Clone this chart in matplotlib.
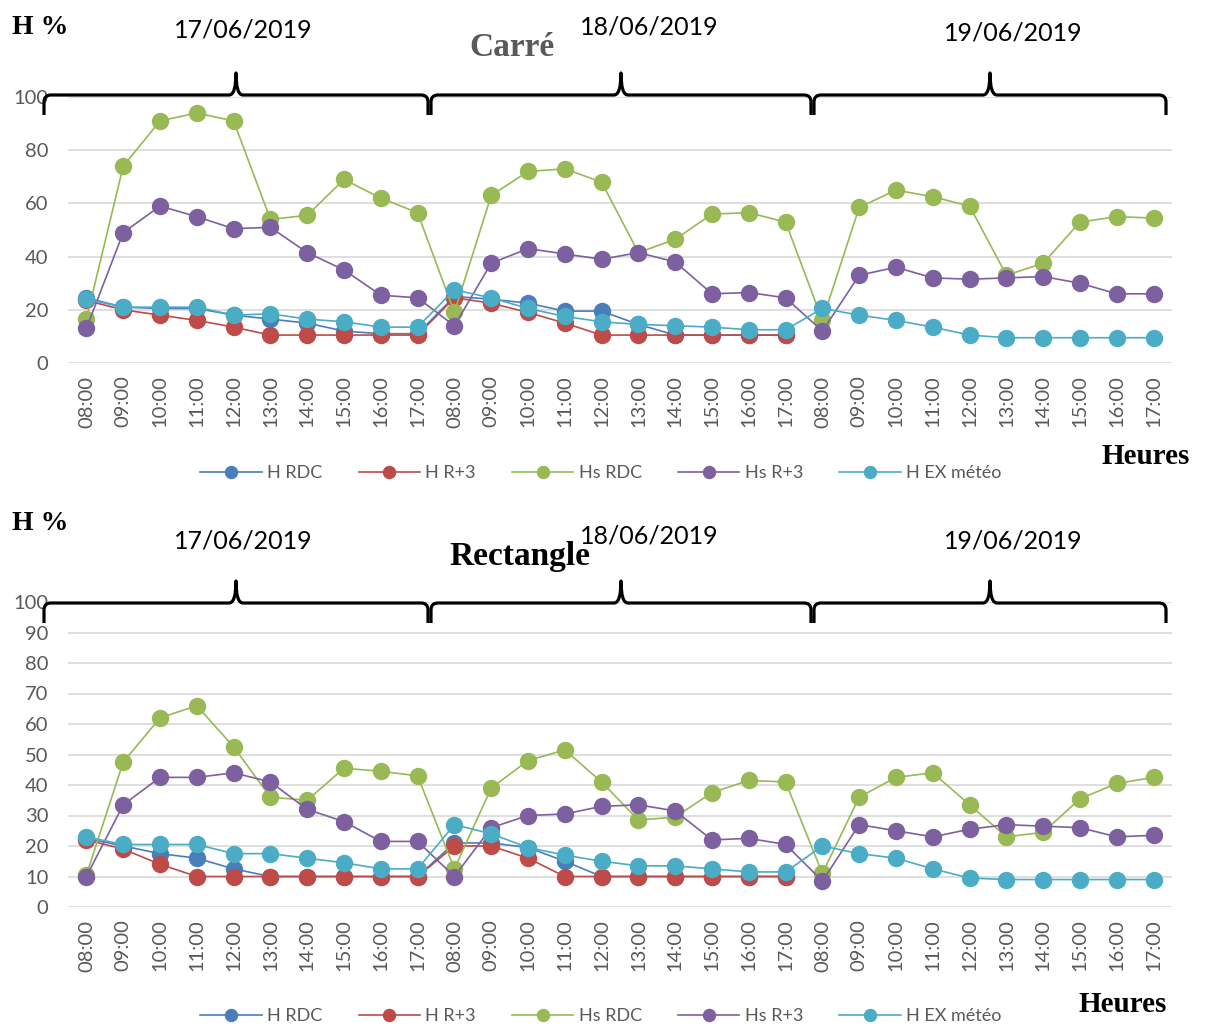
import numpy as np
import matplotlib
matplotlib.use("Agg")
import matplotlib.pyplot as plt
from matplotlib.path import Path
from matplotlib.patches import PathPatch

nan = np.nan

# Hours for the three days (17, 18, 19 June 2019)
hours = ["08:00", "09:00", "10:00", "11:00", "12:00",
         "13:00", "14:00", "15:00", "16:00", "17:00"]
labels = hours * 3
days = ["17/06/2019", "18/06/2019", "19/06/2019"]
series_names = ["H RDC", "H R+3", "Hs RDC", "Hs R+3", "H EX météo"]

# Carré
carre_h_rdc = [24.5, 21, 20.5, 20.5, 18, 16.5, 15, 12, 11, 11,
               25, 24, 22.5, 19.5, 19.5, 14.5, 10.5, 10.5, 10.5, 10.5,
               nan, nan, nan, nan, nan, nan, nan, nan, nan, nan]
carre_h_r3 = [23.5, 20, 18, 16, 13.5, 10.5, 10.5, 10.5, 10.5, 10.5,
              24.5, 22.5, 19, 15, 10.5, 10.5, 10.5, 10.5, 10.5, 10.5,
              nan, nan, nan, nan, nan, nan, nan, nan, nan, nan]
carre_hs_rdc = [16.5, 74, 91, 94, 91, 54, 55.5, 69, 62, 56.5,
                19, 63, 72, 73, 68, 41.5, 46.5, 56, 56.5, 53,
                16, 58.5, 65, 62.5, 59, 33, 37.5, 53, 55, 54.5]
carre_hs_r3 = [13, 49, 59, 55, 50.5, 51, 41.5, 35, 25.5, 24.5,
               14, 37.5, 43, 41, 39, 41.5, 38, 26, 26.5, 24.5,
               12, 33, 36, 32, 31.5, 32, 32.5, 30, 26, 26]
carre_h_ex = [24, 21, 21, 21, 18, 18.5, 16.5, 15.5, 13.5, 13.5,
              27.5, 24.5, 20.5, 17.5, 15.5, 14.5, 14, 13.5, 12.5, 12.5,
              20.5, 18, 16, 13.5, 10.5, 9.5, 9.5, 9.5, 9.5, 9.5]

# Rectangle
rect_h_rdc = [22.5, 20, 17.5, 16, 12.5, 10, 10, 10, 10, 10,
              21, 21, 19.5, 15, 10, 10, 10, 10, 10, 10,
              nan, nan, nan, nan, nan, nan, nan, nan, nan, nan]
rect_h_r3 = [22, 19, 14, 10, 10, 10, 10, 10, 10, 10,
             20, 20, 16, 10, 10, 10, 10, 10, 10, 10,
             nan, nan, nan, nan, nan, nan, nan, nan, nan, nan]
rect_hs_rdc = [10.5, 47.5, 62, 66, 52.5, 36, 35, 45.5, 44.5, 43,
               12.5, 39, 48, 51.5, 41, 28.5, 29.5, 37.5, 41.5, 41,
               11, 36, 42.5, 44, 33.5, 23, 24.5, 35.5, 40.5, 42.5]
rect_hs_r3 = [10, 33.5, 42.5, 42.5, 44, 41, 32, 28, 21.5, 21.5,
              10, 26, 30, 30.5, 33, 33.5, 31.5, 22, 22.5, 20.5,
              8.5, 27, 25, 23, 25.5, 27, 26.5, 26, 23, 23.5]
rect_h_ex = [23, 20.5, 20.5, 20.5, 17.5, 17.5, 16, 14.5, 12.5, 12.5,
             27, 24, 19.5, 17, 15, 13.5, 13.5, 12.5, 11.5, 11.5,
             20, 17.5, 16, 12.5, 9.5, 9, 9, 9, 9, 9]

colors = ["#4a7ebb", "#be4b48", "#98b954", "#7d60a0", "#4bacc6"]

W, H = 1207, 1026
fig = plt.figure(figsize=(W / 100, H / 100), dpi=100)
SANS = "Lato"
SERIF = "Liberation Serif"


def fx(x):
    return x / W


def fy(y):
    return 1 - y / H


def brace(x0, x1, y, down=20, up=22, r=7):
    xm = (x0 + x1) / 2
    pts = [(x0, y + down), (x0, y + r), (x0, y), (x0 + r, y),
           (xm - r, y), (xm, y), (xm, y - up),
           (xm, y), (xm + r, y),
           (x1 - r, y), (x1, y), (x1, y + r), (x1, y + down)]
    codes = [Path.MOVETO, Path.LINETO, Path.CURVE3, Path.CURVE3,
             Path.LINETO, Path.CURVE3, Path.CURVE3,
             Path.CURVE3, Path.CURVE3,
             Path.LINETO, Path.CURVE3, Path.CURVE3, Path.LINETO]
    verts = [(fx(a), fy(b)) for a, b in pts]
    fig.add_artist(PathPatch(Path(verts, codes), transform=fig.transFigure,
                             fill=False, lw=2.3, color="black",
                             capstyle="butt", joinstyle="round"))


def panel(top_px, bottom_px, data, step, title, title_color, title_xy,
          date_ys, hpct_y, heures_xy, legend_y, brace_y):
    ax = fig.add_axes([fx(68), fy(bottom_px), fx(1172) - fx(68),
                       fy(top_px) - fy(bottom_px)])
    x = np.arange(len(labels))
    for vals, name, c in zip(data, series_names, colors):
        ax.plot(x, vals, color=c, lw=1.2, marker="o", markersize=11.5,
                markeredgecolor=c, label=name)
    ax.set_xlim(-0.5, len(labels) - 0.5)
    ax.set_ylim(0, 100)
    ax.set_yticks(np.arange(0, 101, step))
    ax.set_xticks(x)
    ax.set_xticklabels(labels, rotation=90)
    ax.grid(axis="y", color="#d9d9d9", lw=1.2)
    ax.set_axisbelow(True)
    for s in ax.spines.values():
        s.set_visible(False)
    ax.tick_params(length=0, labelsize=14.5, labelcolor="#595959")
    ax.tick_params(axis="y", pad=14)
    ax.tick_params(axis="x", pad=9)
    for t in ax.get_xticklabels() + ax.get_yticklabels():
        t.set_fontfamily(SANS)

    fig.legend(*ax.get_legend_handles_labels(), loc="center",
               bbox_to_anchor=(fx(601), fy(legend_y)), ncol=5, frameon=False,
               markerscale=0.75, handlelength=3.4, columnspacing=2.0,
               handletextpad=0.3,
               prop={"family": SANS, "size": 13}, labelcolor="#595959")

    fig.text(fx(12), fy(hpct_y), "H %", fontfamily=SERIF, fontweight="bold",
             fontsize=20, ha="left", va="center")
    for (dx, dy), d in zip(date_ys, days):
        fig.text(fx(dx), fy(dy), d, fontfamily=SANS, fontsize=18,
                 ha="center", va="center")
    fig.text(fx(title_xy[0]), fy(title_xy[1]), title, fontfamily=SERIF,
             fontweight="bold", fontsize=24, color=title_color,
             ha="center", va="center")
    fig.text(fx(heures_xy[0]), fy(heures_xy[1]), "Heures", fontfamily=SERIF,
             fontweight="bold", fontsize=21, ha="center", va="center")

    brace(44, 428, brace_y)
    brace(431, 811, brace_y)
    brace(814, 1166, brace_y)
    return ax


panel(97, 363,
      [carre_h_rdc, carre_h_r3, carre_hs_rdc, carre_hs_r3, carre_h_ex],
      20, "Carré", "#595959", (512, 47),
      [(243, 30), (649, 27), (1013, 33)], 27, (1146, 457), 473, 95)

panel(602, 907,
      [rect_h_rdc, rect_h_r3, rect_hs_rdc, rect_hs_r3, rect_h_ex],
      10, "Rectangle", "black", (520, 557),
      [(243, 541), (649, 536), (1013, 541)], 523, (1123, 1005), 1016, 603)

fig.savefig("out.png", dpi=100)
